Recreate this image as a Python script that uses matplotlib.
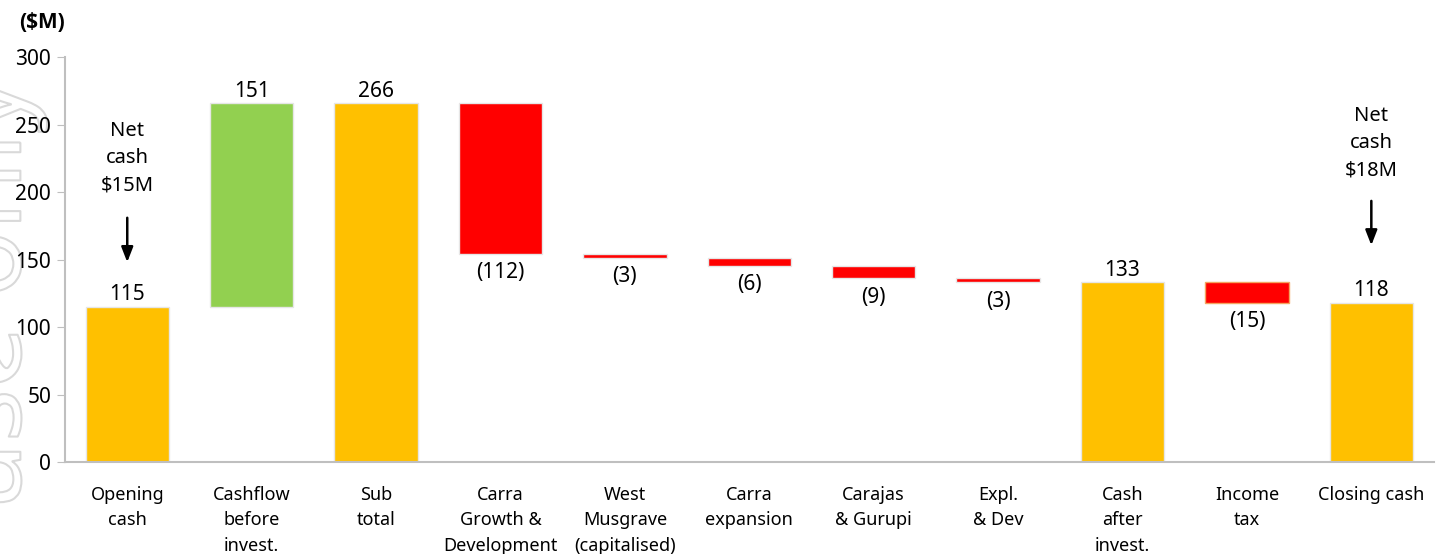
import matplotlib
matplotlib.use("Agg")
import matplotlib.pyplot as plt
import matplotlib.patheffects as pe
import numpy as np

plt.rcParams['font.family'] = ['Noto Sans', 'DejaVu Sans']

# data
categories = ["Opening\ncash", "Cashflow\nbefore\ninvest.", "Sub\ntotal",
              "Carra\nGrowth &\nDevelopment", "West\nMusgrave\n(capitalised)",
              "Carra\nexpansion", "Carajas\n& Gurupi", "Expl.\n& Dev",
              "Cash\nafter\ninvest.", "Income\ntax", "Closing cash"]
values = [115, 151, 266, -112, -3, -6, -9, -3, 133, -15, 118]
kinds = ["total", "up", "total", "down", "down", "down", "down", "down",
         "total", "down", "total"]
labels = ["115", "151", "266", "(112)", "(3)", "(6)", "(9)", "(3)",
          "133", "(15)", "118"]
yticks = [0, 50, 100, 150, 200, 250, 300]

YELLOW, GREEN, RED = "#FFC000", "#92D050", "#FF0000"

fig = plt.figure(figsize=(14.39, 5.54), dpi=100)

# faint outlined watermark on the left edge
fig.text(-0.006, 0.47, "use only", rotation=90, ha="center", va="center",
         fontsize=80, color="none", zorder=-1,
         path_effects=[pe.withStroke(linewidth=1.5, foreground="#d9d9d9")])

ax = fig.add_axes([0.0452, 0.166, 0.951, 0.731])
ax.patch.set_alpha(0)

x = np.arange(len(categories))
running = 0
for i, (v, k, lab) in enumerate(zip(values, kinds, labels)):
    if k == "total":
        bottom, height, col = 0, v, YELLOW
        running = v
    elif k == "up":
        bottom, height, col = running, v, GREEN
        running += v
    else:
        bottom, height, col = running + v, -v, RED
        running += v
    ec = "#F4A460" if i == 9 else "#e6e6e6"
    ax.bar(x[i], height, bottom=bottom, width=0.67, color=col,
           edgecolor=ec, linewidth=1)
    if k == "down":
        ax.text(x[i], bottom - 6, lab, ha="center", va="top", fontsize=15)
    else:
        ax.text(x[i], bottom + height + 1, lab, ha="center", va="bottom",
                fontsize=15)

# net cash annotations
for xi, txt, ytxt, y0, y1 in [(0, "Net\ncash\n$15M", 253, 183, 146),
                               (10, "Net\ncash\n$18M", 264, 195.5, 158.5)]:
    ax.text(x[xi], ytxt, txt, ha="center", va="top", fontsize=14.5,
            linespacing=1.5)
    ax.annotate("", xy=(x[xi], y1), xytext=(x[xi], y0),
                arrowprops=dict(arrowstyle="-|>,head_width=0.35,head_length=0.9",
                                color="black", lw=1.8))

ax.set_xlim(-0.5, len(categories) - 0.5)
ax.set_ylim(0, 300)
ax.set_yticks(yticks)
ax.tick_params(axis="y", labelsize=15, length=6, color="#bfbfbf", pad=4)
ax.set_xticks(x)
ax.set_xticklabels(categories, fontsize=13, va="top", linespacing=1.55)
ax.tick_params(axis="x", length=0, pad=17)
for s in ["top", "right"]:
    ax.spines[s].set_visible(False)
for s in ["left", "bottom"]:
    ax.spines[s].set_color("#bfbfbf")
    ax.spines[s].set_linewidth(1.5)

fig.text(0.029, 0.96, "($M)", ha="center", va="center", fontsize=15,
         fontweight="bold", family=["Open Sans", "DejaVu Sans"])

fig.savefig("out.png", dpi=100)
